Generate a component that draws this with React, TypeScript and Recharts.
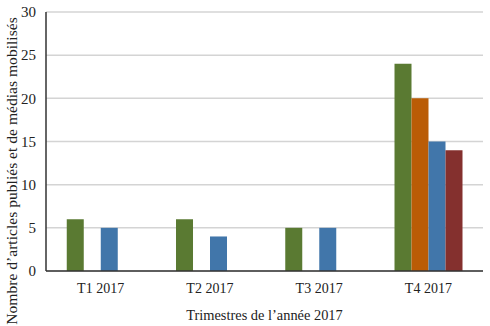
import React from 'react';
import { BarChart, Bar, XAxis, YAxis, CartesianGrid } from 'recharts';

const categories = ['T1 2017', 'T2 2017', 'T3 2017', 'T4 2017'];
const series1 = [6, 6, 5, 24];
const series2 = [0, 0, 0, 20];
const series3 = [5, 4, 5, 15];
const series4 = [0, 0, 0, 14];
const yTicks = [0, 5, 10, 15, 20, 25, 30];

const data = categories.map((c, i) => ({
  name: c,
  s1: series1[i],
  s2: series2[i],
  s3: series3[i],
  s4: series4[i],
}));

const font = 'Liberation Serif';

const YTitle = (props: any) => {
  const x = 11;
  const y = 171;
  return (
    <text
      x={x}
      y={y}
      transform={`rotate(-90, ${x}, ${y})`}
      textAnchor="middle"
      dominantBaseline="central"
      fontFamily={font}
      fontSize={15.6}
      fill="#222"
    >
      Nombre d’articles publiés et de médias mobilisés
    </text>
  );
};

export default function App() {
  return (
    <div style={{ position: 'absolute', left: 0, top: 0, background: '#fff' }}>
      <BarChart
        width={490}
        height={326}
        data={data}
        margin={{ top: 12, right: 7, left: 0, bottom: 0 }}
        barCategoryGap="19%"
        barGap={0}
      >
        <CartesianGrid vertical={false} stroke="#d4d4d4" strokeWidth={1.5} />
        <XAxis
          dataKey="name"
          height={55}
          tickSize={0}
          tickMargin={12}
          axisLine={{ stroke: '#333', strokeWidth: 1.5 }}
          tick={{ fontFamily: font, fontSize: 14, fill: '#222' }}
          label={{
            value: 'Trimestres de l’année 2017',
            position: 'insideBottom',
            offset: 6,
            fontFamily: font,
            fontSize: 14.4,
            fill: '#222',
          }}
        />
        <YAxis
          width={46}
          domain={[0, 30]}
          ticks={yTicks}
          tickSize={0}
          tickMargin={10}
          axisLine={{ stroke: '#333', strokeWidth: 1.5 }}
          tick={{ fontFamily: font, fontSize: 15, fill: '#222' }}
          label={<YTitle />}
        />
        <Bar dataKey="s1" fill="#5a7a32" isAnimationActive={false} />
        <Bar dataKey="s2" fill="#ba5c06" isAnimationActive={false} />
        <Bar dataKey="s3" fill="#4176aa" isAnimationActive={false} />
        <Bar dataKey="s4" fill="#84302e" isAnimationActive={false} />
      </BarChart>
    </div>
  );
}
